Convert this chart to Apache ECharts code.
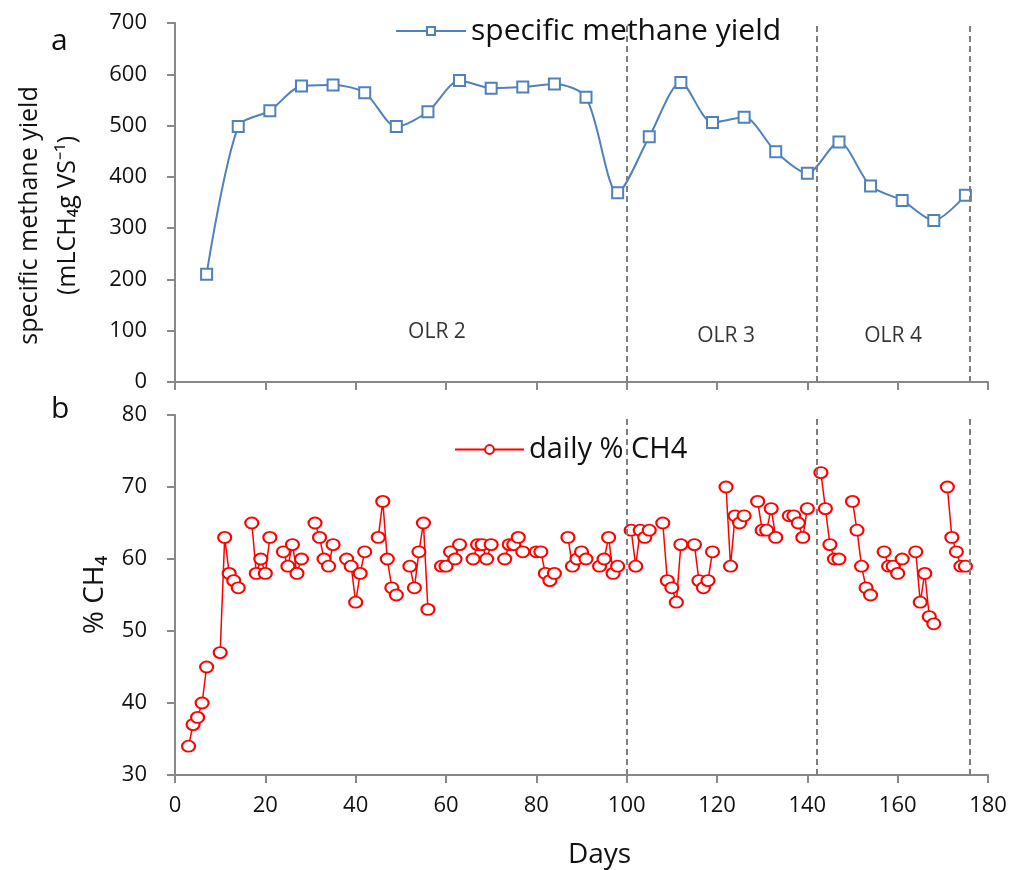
<!DOCTYPE html>
<html>
<head>
<meta charset="utf-8">
<script src="https://cdn.jsdelivr.net/npm/echarts@6/dist/echarts.min.js"></script>
<style>
html,body{margin:0;padding:0;background:#fff;}
#chart{width:1019px;height:870px;}
</style>
</head>
<body>
<div id="chart"></div>
<script>
// ---- data ----
const yieldDays   = [7,14,21,28,35,42,49,56,63,70,77,84,91,98,105,112,119,126,133,140,147,154,161,168,175];
const yieldValues = [210,498,529,577,579,564,498,527,588,573,575,581,555,369,478,584,506,516,449,407,468,382,354,315,364];

const ch4Days = [3,4,5,6,7, 10,11,12,13,14, 17,18,19,20,21, 24,25,26,27,28, 31,32,33,34,35,
                 38,39,40,41,42, 45,46,47,48,49, 52,53,54,55,56, 59,60,61,62,63, 66,67,68,69,70,
                 73,74,75,76,77, 80,81,82,83,84, 87,88,89,90,91, 94,95,96,97,98, 101,102,103,104,105,
                 108,109,110,111,112, 115,116,117,118,119, 122,123,124,125,126, 129,130,131,132,133,
                 136,137,138,139,140, 143,144,145,146,147, 150,151,152,153,154, 157,158,159,160,161,
                 164,165,166,167,168, 171,172,173,174,175];
const ch4Values = [34,37,38,40,45, 47,63,58,57,56, 65,58,60,58,63, 61,59,62,58,60, 65,63,60,59,62,
                   60,59,54,58,61, 63,68,60,56,55, 59,56,61,65,53, 59,59,61,60,62, 60,62,62,60,62,
                   60,62,62,63,61, 61,61,58,57,58, 63,59,60,61,60, 59,60,63,58,59, 64,59,64,63,64,
                   65,57,56,54,62, 62,57,56,57,61, 70,59,66,65,66, 68,64,64,67,63,
                   66,66,65,63,67, 72,67,62,60,60, 68,64,59,56,55, 61,59,59,58,60,
                   61,54,58,52,51, 70,63,61,59,59];

const phaseBoundaries = [100, 142, 176];
const phaseLabels = ['OLR 2', 'OLR 3', 'OLR 4'];
const phaseLabelDays = [58, 122, 159];
const phaseLabelLevels = [101, 93, 93];

const yieldTicks = {min: 0, max: 700, interval: 100};
const ch4Ticks = {min: 30, max: 80, interval: 10};
const dayTicks = {min: 0, max: 180, interval: 20};

// ---- build ----
const yieldData = yieldDays.map((d, i) => [d, yieldValues[i]]);
const ch4Data = [];
ch4Days.forEach((d, i) => {
  if (i > 0 && d - ch4Days[i - 1] > 1) ch4Data.push([ch4Days[i - 1] + 1, null]); // weekend break
  ch4Data.push([d, ch4Values[i]]);
});
const olrData = phaseLabels.map((n, i) => ({name: n, value: [phaseLabelDays[i], phaseLabelLevels[i]]}));

const FONT = 'Open Sans';
const TXT = '#111111';
const AX = '#888888';
const axisLine = {show: true, lineStyle: {color: AX, width: 2}};
const axisTick = {show: true, inside: false, length: 8, lineStyle: {color: AX, width: 2}};
const markLines = {
  silent: true, symbol: ['none', 'none'], label: {show: false},
  lineStyle: {type: [6, 4], color: '#7f7f7f', width: 2},
  data: phaseBoundaries.map(d => ({xAxis: d}))
};

const chart = echarts.init(document.getElementById('chart'), null, {renderer: 'canvas'});
chart.setOption({
  backgroundColor: '#fff',
  animation: false,
  textStyle: {fontFamily: FONT, color: TXT},
  grid: [
    {left: 175, right: 31, top: 23, height: 359},
    {left: 175, right: 31, top: 415, height: 360}
  ],
  xAxis: [
    {gridIndex: 0, type: 'value', min: dayTicks.min, max: dayTicks.max, interval: dayTicks.interval,
     axisLine, axisTick, axisLabel: {show: false}, splitLine: {show: false}},
    {gridIndex: 1, type: 'value', min: dayTicks.min, max: dayTicks.max, interval: dayTicks.interval,
     axisLine, axisTick, splitLine: {show: false},
     axisLabel: {fontFamily: FONT, fontSize: 22, color: TXT, margin: 20},
     name: 'Days', nameLocation: 'middle', nameGap: 66,
     nameTextStyle: {fontFamily: FONT, fontSize: 28, color: TXT, padding: [0, 0, 0, 36]}}
  ],
  yAxis: [
    {gridIndex: 0, type: 'value', min: yieldTicks.min, max: yieldTicks.max, interval: yieldTicks.interval,
     axisLine, axisTick, splitLine: {show: false},
     axisLabel: {fontFamily: FONT, fontSize: 22, color: TXT, margin: 28},
     name: 'specific methane yield\n(mLCH₄g VS⁻¹)', nameLocation: 'middle', nameRotate: 90, nameGap: 88,
     nameTextStyle: {fontFamily: FONT, fontSize: 25, color: TXT, lineHeight: 38, padding: [0, 26, 0, 0]}},
    {gridIndex: 1, type: 'value', min: ch4Ticks.min, max: ch4Ticks.max, interval: ch4Ticks.interval,
     axisLine, axisTick, splitLine: {show: false},
     axisLabel: {fontFamily: FONT, fontSize: 22, color: TXT, margin: 28},
     name: '% CH₄', nameLocation: 'middle', nameRotate: 90, nameGap: 66,
     nameTextStyle: {fontFamily: FONT, fontSize: 28, color: TXT}}
  ],
  legend: [
    {data: ['specific methane yield'], left: 390, top: 11, itemWidth: 70, itemHeight: 10, itemGap: 5,
     textStyle: {fontFamily: FONT, fontSize: 30, color: TXT}},
    {data: ['daily % CH4'], left: 449, top: 430, itemWidth: 69, itemHeight: 11, itemGap: 5,
     textStyle: {fontFamily: FONT, fontSize: 29, color: TXT}}
  ],
  graphic: [
    {type: 'text', left: 51, top: 26, style: {text: 'a', font: '30px "Open Sans"', fill: TXT}},
    {type: 'text', left: 51, top: 394, style: {text: 'b', font: '30px "Open Sans"', fill: TXT}}
  ],
  series: [
    {name: 'specific methane yield', type: 'line', xAxisIndex: 0, yAxisIndex: 0, data: yieldData,
     smooth: 0.28, symbol: 'emptyRect', symbolSize: 11,
     lineStyle: {color: '#4F81BD', width: 2},
     itemStyle: {color: '#4F81BD', borderColor: '#4F81BD', borderWidth: 2},
     markLine: markLines, z: 3},
    {name: 'daily % CH4', type: 'line', xAxisIndex: 1, yAxisIndex: 1, data: ch4Data,
     connectNulls: false, symbol: 'emptyCircle', symbolSize: [13, 11],
     lineStyle: {color: '#FF0000', width: 1.5},
     itemStyle: {color: '#FF0000', borderColor: '#FF0000', borderWidth: 1.5},
     markLine: markLines, z: 3},
    {name: 'OLR', type: 'scatter', xAxisIndex: 0, yAxisIndex: 0, data: olrData,
     symbolSize: 0, silent: true, itemStyle: {color: 'transparent'},
     label: {show: true, position: 'top', distance: -12, formatter: p => p.name,
             fontFamily: FONT, fontSize: 21, color: '#000', textBorderWidth: 0}}
  ]
});
</script>
</body>
</html>
